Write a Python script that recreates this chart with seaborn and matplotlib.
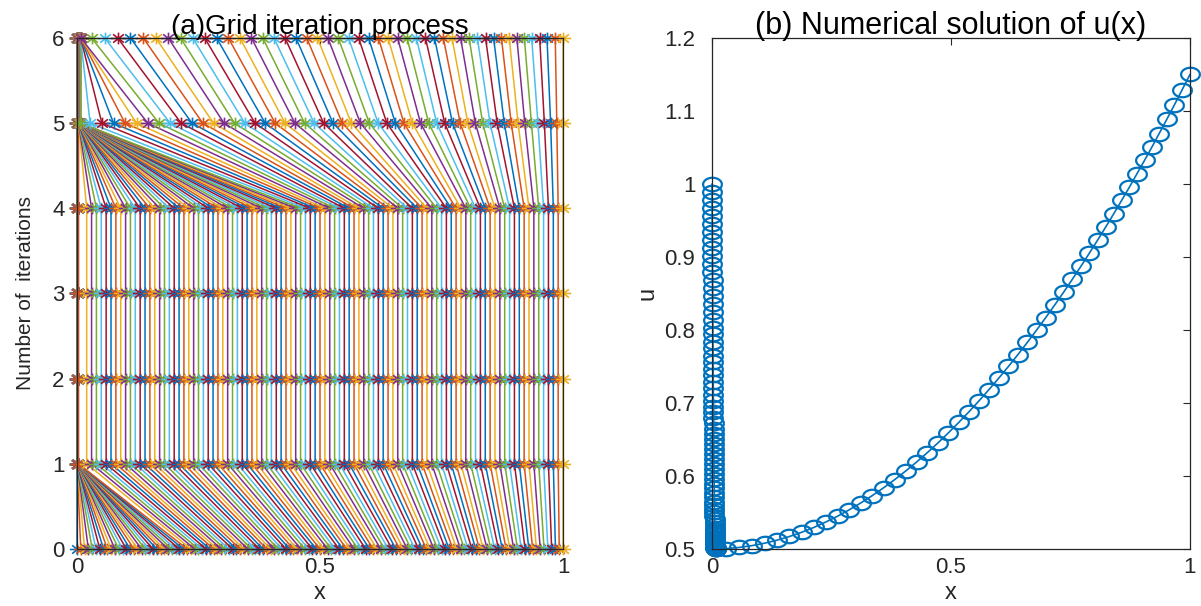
import matplotlib
matplotlib.use("Agg")
import matplotlib.pyplot as plt
from matplotlib.path import Path
import numpy as np
import pandas as pd
import seaborn as sns

# ---- data ------------------------------------------------------------------
# grid node positions at iteration 0 (uniform start grid, 129 nodes)
x_iter0 = [
    0.0000, 0.0078, 0.0156, 0.0234, 0.0313, 0.0391, 0.0469, 0.0547,
    0.0625, 0.0703, 0.0781, 0.0859, 0.0938, 0.1016, 0.1094, 0.1172,
    0.1250, 0.1328, 0.1406, 0.1484, 0.1563, 0.1641, 0.1719, 0.1797,
    0.1875, 0.1953, 0.2031, 0.2109, 0.2188, 0.2266, 0.2344, 0.2422,
    0.2500, 0.2578, 0.2656, 0.2734, 0.2813, 0.2891, 0.2969, 0.3047,
    0.3125, 0.3203, 0.3281, 0.3359, 0.3438, 0.3516, 0.3594, 0.3672,
    0.3750, 0.3828, 0.3906, 0.3984, 0.4063, 0.4141, 0.4219, 0.4297,
    0.4375, 0.4453, 0.4531, 0.4609, 0.4688, 0.4766, 0.4844, 0.4922,
    0.5000, 0.5078, 0.5156, 0.5234, 0.5313, 0.5391, 0.5469, 0.5547,
    0.5625, 0.5703, 0.5781, 0.5859, 0.5938, 0.6016, 0.6094, 0.6172,
    0.6250, 0.6328, 0.6406, 0.6484, 0.6563, 0.6641, 0.6719, 0.6797,
    0.6875, 0.6953, 0.7031, 0.7109, 0.7188, 0.7266, 0.7344, 0.7422,
    0.7500, 0.7578, 0.7656, 0.7734, 0.7813, 0.7891, 0.7969, 0.8047,
    0.8125, 0.8203, 0.8281, 0.8359, 0.8438, 0.8516, 0.8594, 0.8672,
    0.8750, 0.8828, 0.8906, 0.8984, 0.9063, 0.9141, 0.9219, 0.9297,
    0.9375, 0.9453, 0.9531, 0.9609, 0.9688, 0.9766, 0.9844, 0.9922,
    1.0000,
]

# nodes squeezed into the boundary layer at x ~ 0
layer_x = [
    0.0000, 0.0001, 0.0002, 0.0003, 0.0004, 0.0005, 0.0006, 0.0007, 0.0008, 0.0009,
    0.0010, 0.0011, 0.0012, 0.0013, 0.0014, 0.0015, 0.0016, 0.0017, 0.0018, 0.0019,
    0.0020, 0.0021, 0.0022, 0.0023, 0.0024, 0.0025, 0.0026, 0.0027, 0.0028, 0.0029,
    0.0030, 0.0031, 0.0032, 0.0033, 0.0034, 0.0035, 0.0036, 0.0037, 0.0038, 0.0039,
    0.0040, 0.0041, 0.0042, 0.0043, 0.0044, 0.0045, 0.0046, 0.0047, 0.0048, 0.0049,
    0.0050, 0.0051, 0.0052, 0.0053, 0.0054, 0.0055, 0.0056, 0.0057, 0.0058, 0.0059,
    0.0060, 0.0061, 0.0062, 0.0063, 0.0064, 0.0065, 0.0066, 0.0067, 0.0068, 0.0069,
    0.0070, 0.0071, 0.0072, 0.0073, 0.0074, 0.0075, 0.0076, 0.0077, 0.0078, 0.0079,
    0.0080,
]

# outer nodes for iterations 1-4 (grid does not move between them)
x_outer_1to4 = [
    0.02, 0.03, 0.04, 0.05, 0.06, 0.07, 0.08, 0.09,
    0.10, 0.11, 0.12, 0.13, 0.14, 0.15, 0.16, 0.17, 0.18, 0.19,
    0.20, 0.21, 0.22, 0.23, 0.24, 0.25, 0.26, 0.27, 0.28, 0.29,
    0.30, 0.31, 0.32, 0.33, 0.34, 0.35, 0.36, 0.37, 0.38, 0.39,
    0.40, 0.41, 0.42, 0.43, 0.44, 0.45, 0.46, 0.47, 0.48, 0.49,
    0.50, 0.51, 0.52, 0.53, 0.54, 0.55, 0.56, 0.57, 0.58, 0.59,
    0.60, 0.61, 0.62, 0.63, 0.64, 0.65, 0.66, 0.67, 0.68, 0.69,
    0.70, 0.71, 0.72, 0.73, 0.74, 0.75, 0.76, 0.77, 0.78, 0.79,
    0.80, 0.81, 0.82, 0.83, 0.84, 0.85, 0.86, 0.87, 0.88, 0.89,
    0.90, 0.91, 0.92, 0.93, 0.94, 0.95, 0.96, 0.97, 0.98, 0.99,
    1.00,
]

x_outer_5 = [
    0.0270, 0.0512, 0.0752, 0.0989, 0.1225, 0.1458, 0.1688, 0.1917, 0.2143, 0.2367,
    0.2589, 0.2809, 0.3026, 0.3241, 0.3454, 0.3664, 0.3873, 0.4079, 0.4282, 0.4484,
    0.4683, 0.4880, 0.5075, 0.5267, 0.5458, 0.5646, 0.5831, 0.6015, 0.6196, 0.6375,
    0.6552, 0.6727, 0.6899, 0.7069, 0.7237, 0.7402, 0.7566, 0.7727, 0.7885, 0.8042,
    0.8196, 0.8348, 0.8498, 0.8646, 0.8791, 0.8934, 0.9075, 0.9213, 0.9350, 0.9484,
    0.9616, 0.9745, 0.9872, 1.0000,
]

x_outer_6 = [
    0.0300, 0.0570, 0.0837, 0.1101, 0.1363, 0.1622, 0.1878, 0.2131, 0.2381, 0.2628,
    0.2873, 0.3115, 0.3354, 0.3590, 0.3823, 0.4053, 0.4281, 0.4506, 0.4728, 0.4947,
    0.5163, 0.5376, 0.5587, 0.5795, 0.6000, 0.6202, 0.6401, 0.6597, 0.6791, 0.6982,
    0.7170, 0.7355, 0.7537, 0.7716, 0.7893, 0.8067, 0.8238, 0.8406, 0.8571, 0.8733,
    0.8893, 0.9050, 0.9204, 0.9355, 0.9520, 0.9670, 0.9840, 1.0000,
]

# solution values: boundary layer nodes, then outer nodes
u_layer = [
    1.000, 0.989, 0.978, 0.967, 0.956, 0.945, 0.934, 0.923, 0.912, 0.901,
    0.890, 0.879, 0.868, 0.857, 0.846, 0.835, 0.824, 0.813,
    0.803, 0.794, 0.784, 0.775, 0.765, 0.756, 0.747, 0.738, 0.729, 0.720, 0.711,
    0.703, 0.695, 0.688, 0.680, 0.673, 0.665, 0.658, 0.651, 0.644, 0.637,
    0.630, 0.623, 0.616, 0.609,
    0.603, 0.596, 0.589, 0.583, 0.577, 0.571, 0.565, 0.560, 0.555, 0.550,
    0.545, 0.541, 0.537, 0.533, 0.529, 0.526, 0.523, 0.520, 0.517, 0.515,
    0.513, 0.511, 0.5095, 0.508, 0.507, 0.506, 0.505, 0.5042, 0.5035, 0.503,
    0.5025, 0.502, 0.5016, 0.5012, 0.5008, 0.5005, 0.5003, 0.5001,
]

u_outer = [
    0.5006, 0.5021, 0.5046, 0.5079, 0.5121, 0.5171, 0.5229, 0.5295, 0.5369, 0.5449,
    0.5537, 0.5631, 0.5731, 0.5838, 0.5950, 0.6068, 0.6191, 0.6320, 0.6453, 0.6591,
    0.6733, 0.6879, 0.7029, 0.7183, 0.7340, 0.7500, 0.7663, 0.7829, 0.7998, 0.8169,
    0.8342, 0.8516, 0.8692, 0.8870, 0.9050, 0.9230, 0.9411, 0.9593, 0.9775, 0.9957,
    1.0141, 1.0324, 1.0506, 1.0689, 1.0891, 1.1078, 1.1294, 1.1500,
]

n_layer_1to4 = 30
n_layer_5 = 75
n_layer_6 = 81

iterations = [0, 1, 2, 3, 4, 5, 6]
matlab_colors = ["#0072BD", "#D95319", "#EDB120", "#7E2F8E",
                 "#77AC30", "#4DBEEE", "#A2142F"]

# ---- assemble per-iteration grids -----------------------------------------
x_iter1to4 = layer_x[:n_layer_1to4] + x_outer_1to4
x_iter5 = layer_x[:n_layer_5] + x_outer_5
x_iter6 = layer_x[:n_layer_6] + x_outer_6
grids = [x_iter0, x_iter1to4, x_iter1to4, x_iter1to4, x_iter1to4, x_iter5, x_iter6]

n_nodes = len(x_iter0)
rows = []
for node in range(n_nodes):
    for it, grid in zip(iterations, grids):
        rows.append({"node": f"n{node:03d}", "iteration": it, "x": grid[node]})
grid_df = pd.DataFrame(rows)
node_order = [f"n{i:03d}" for i in range(n_nodes)]
palette = [matlab_colors[i % len(matlab_colors)] for i in range(n_nodes)]

sol_df = pd.DataFrame({"x": x_iter6, "u": u_layer + u_outer})

# ---- marker shapes (MATLAB '*' and 'o', a bit wide like the reference) ------
sx = 1.3
d = 0.7071
asterisk = Path(
    [(-sx, 0), (sx, 0), (0, -1), (0, 1),
     (-sx * d, -d), (sx * d, d), (-sx * d, d), (sx * d, -d)],
    [Path.MOVETO, Path.LINETO] * 4,
)
theta = np.linspace(0, 2 * np.pi, 60)
ellipse = Path(np.column_stack([np.cos(theta), 0.72 * np.sin(theta)]))

# ---- plot --------------------------------------------------------------------
sns.set_style("white")
plt.rcParams["font.family"] = ["Liberation Sans", "DejaVu Sans"]
axis_color = "#262626"

fig = plt.figure(figsize=(12.01, 6.06), dpi=100)
ax1 = fig.add_axes([0.0641, 0.0941, 0.4047, 0.8432])
ax2 = fig.add_axes([0.5928, 0.0941, 0.3980, 0.8432])

sns.lineplot(
    data=grid_df, x="x", y="iteration", hue="node", hue_order=node_order,
    palette=palette, estimator=None, sort=False, legend=False, ax=ax1,
    marker=asterisk, markersize=11, markeredgewidth=1.2, markerfacecolor="none",
    linewidth=1.1, clip_on=False,
)
for line in ax1.lines:
    line.set_markeredgecolor(line.get_color())

sns.lineplot(
    data=sol_df, x="x", y="u", estimator=None, sort=False, ax=ax2,
    color="#0072BD", marker=ellipse, markersize=13.5, markerfacecolor="none",
    markeredgecolor="#0072BD", markeredgewidth=1.6, linewidth=1.2,
    clip_on=False,
)

ax1.set_xlim(0, 1)
ax1.set_ylim(0, 6)
ax1.set_xticks([0, 0.5, 1])
ax1.set_xticklabels(["0", "0.5", "1"])
ax1.set_yticks(iterations)
ax1.set_title("(a)Grid iteration process", fontsize=20, pad=3, color="black")
ax1.set_xlabel("x", fontsize=17, labelpad=3, color=axis_color)
ax1.set_ylabel("Number of  iterations", fontsize=15, labelpad=12, color=axis_color)

ax2.set_xlim(0, 1)
ax2.set_ylim(0.5, 1.2)
ax2.set_xticks([0, 0.5, 1])
ax2.set_xticklabels(["0", "0.5", "1"])
ax2.set_yticks([0.5, 0.6, 0.7, 0.8, 0.9, 1.0, 1.1, 1.2])
ax2.set_yticklabels(["0.5", "0.6", "0.7", "0.8", "0.9", "1", "1.1", "1.2"])
ax2.set_title("(b) Numerical solution of u(x)", fontsize=22, pad=3, color="black")
ax2.set_xlabel("x", fontsize=17, labelpad=3, color=axis_color)
ax2.set_ylabel("u", fontsize=17, labelpad=4, color=axis_color)

for ax in (ax1, ax2):
    ax.tick_params(direction="in", length=5, width=0.8, top=True, right=True,
                   labelsize=16, colors=axis_color, pad=6)
    for spine in ax.spines.values():
        spine.set_visible(True)
        spine.set_color(axis_color)
        spine.set_linewidth(0.9)
ax2.tick_params(axis="y", pad=12)
ax1.tick_params(axis="y", pad=9)

fig.savefig("out.png", dpi=100)
